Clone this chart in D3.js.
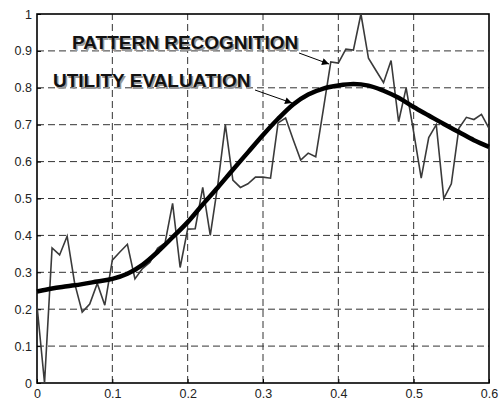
<!DOCTYPE html>
<meta charset="utf-8">
<script src="https://d3js.org/d3.v7.min.js"></script>
<style>
body { margin: 0; background: #fff; }
.tick text { font: 12.5px Arial, "Liberation Sans", sans-serif; fill: #222; }
.grid line { stroke: #333; stroke-width: 1; stroke-dasharray: 7,4; }
.lbl { font: bold 19px Arial, "Liberation Sans", sans-serif; }
</style>
<body>
<script>

// noisy series, sampled every 0.01
var noisyX = d3.range(0, 61).map(function(i) { return i / 100; });
var noisyY = [0.21, 0.00, 0.366, 0.347, 0.398, 0.27, 0.192, 0.214, 0.27, 0.211,
              0.333, 0.355, 0.376, 0.282, 0.31, 0.327, 0.365, 0.38, 0.487, 0.313,
              0.417, 0.418, 0.53, 0.40, 0.537, 0.70, 0.55, 0.53, 0.54, 0.558,
              0.558, 0.555, 0.705, 0.718, 0.66, 0.604, 0.623, 0.613, 0.74, 0.87,
              0.867, 0.905, 0.902, 1.0, 0.88, 0.847, 0.814, 0.874, 0.708, 0.80,
              0.68, 0.555, 0.665, 0.70, 0.50, 0.54, 0.69, 0.72, 0.714, 0.728, 0.69];

// smooth series
var smoothX = [0, 0.02, 0.04, 0.06, 0.08, 0.10, 0.12, 0.14, 0.16, 0.18, 0.20, 0.22, 0.24, 0.26, 0.28, 0.30,
               0.32, 0.34, 0.36, 0.38, 0.40, 0.42, 0.44, 0.46, 0.48, 0.50, 0.52, 0.54, 0.56, 0.58, 0.60];
var smoothY = [0.248, 0.256, 0.262, 0.268, 0.275, 0.282, 0.296, 0.32, 0.355, 0.395, 0.436, 0.484, 0.53, 0.578, 0.625, 0.672,
               0.716, 0.755, 0.782, 0.798, 0.806, 0.81, 0.806, 0.792, 0.773, 0.748, 0.725, 0.702, 0.68, 0.658, 0.64];

var xTicks = [0, 0.1, 0.2, 0.3, 0.4, 0.5, 0.6];
var yTicks = [0, 0.1, 0.2, 0.3, 0.4, 0.5, 0.6, 0.7, 0.8, 0.9, 1];

var width = 504, height = 401;
var margin = {top: 14, right: 15, bottom: 18, left: 37};

var svg = d3.select("body").append("svg")
    .attr("width", width)
    .attr("height", height);

var x = d3.scaleLinear().domain([0, 0.6]).range([margin.left, width - margin.right]);
var y = d3.scaleLinear().domain([0, 1]).range([height - margin.bottom, margin.top]);

// grid
svg.append("g").attr("class", "grid")
    .selectAll("line").data(xTicks.slice(1, -1)).enter().append("line")
    .attr("x1", function(d) { return x(d); }).attr("x2", function(d) { return x(d); })
    .attr("y1", y(0)).attr("y2", y(1));
svg.append("g").attr("class", "grid")
    .selectAll("line").data(yTicks.slice(1, -1)).enter().append("line")
    .attr("y1", function(d) { return y(d); }).attr("y2", function(d) { return y(d); })
    .attr("x1", x(0)).attr("x2", x(0.6));

// axes
var xAxis = svg.append("g")
    .attr("transform", "translate(0," + y(0) + ")")
    .call(d3.axisBottom(x).tickValues(xTicks).tickFormat(d3.format("")).tickSizeInner(-4).tickSizeOuter(0).tickPadding(6));
var yAxis = svg.append("g")
    .attr("transform", "translate(" + x(0) + ",0)")
    .call(d3.axisLeft(y).tickValues(yTicks).tickFormat(d3.format("")).tickSizeInner(-4).tickSizeOuter(0).tickPadding(5));
[xAxis, yAxis].forEach(function(a) {
  a.select(".domain").remove();
  a.selectAll(".tick line").attr("stroke", "#000");
});

// box
svg.append("rect")
    .attr("x", x(0)).attr("y", y(1))
    .attr("width", x(0.6) - x(0)).attr("height", y(0) - y(1))
    .attr("fill", "none").attr("stroke", "#000").attr("stroke-width", 1.6);

var line = d3.line()
    .x(function(d) { return x(d[0]); })
    .y(function(d) { return y(d[1]); });

svg.append("path")
    .datum(d3.zip(noisyX, noisyY))
    .attr("d", line)
    .attr("fill", "none").attr("stroke", "#3a3a3a").attr("stroke-width", 1.6);

svg.append("path")
    .datum(d3.zip(smoothX, smoothY))
    .attr("d", line.curve(d3.curveMonotoneX))
    .attr("fill", "none").attr("stroke", "#000").attr("stroke-width", 4.5)
    .attr("stroke-linejoin", "round");

// arrows
svg.append("defs").append("marker")
    .attr("id", "ah").attr("viewBox", "0 0 10 10")
    .attr("refX", 10).attr("refY", 5)
    .attr("markerWidth", 9).attr("markerHeight", 7)
    .attr("markerUnits", "userSpaceOnUse")
    .attr("orient", "auto")
  .append("path").attr("d", "M0,0L10,5L0,10z").attr("fill", "#000");

var notes = [
  {text: "PATTERN RECOGNITION", tx: 72, ty: 49, ax1: 299, ay1: 53, ax2: 329, ay2: 64},
  {text: "UTILITY EVALUATION", tx: 53, ty: 87, ax1: 255, ay1: 90, ax2: 292, ay2: 103}
];
notes.forEach(function(n) {
  svg.append("text").attr("class", "lbl").attr("x", n.tx + 1.5).attr("y", n.ty + 1.5)
     .attr("fill", "#999").text(n.text);
  svg.append("text").attr("class", "lbl").attr("x", n.tx).attr("y", n.ty)
     .attr("fill", "#111").text(n.text);
  svg.append("line")
     .attr("x1", n.ax1).attr("y1", n.ay1).attr("x2", n.ax2).attr("y2", n.ay2)
     .attr("stroke", "#000").attr("stroke-width", 1)
     .attr("marker-end", "url(#ah)");
});

</script>
</body>
